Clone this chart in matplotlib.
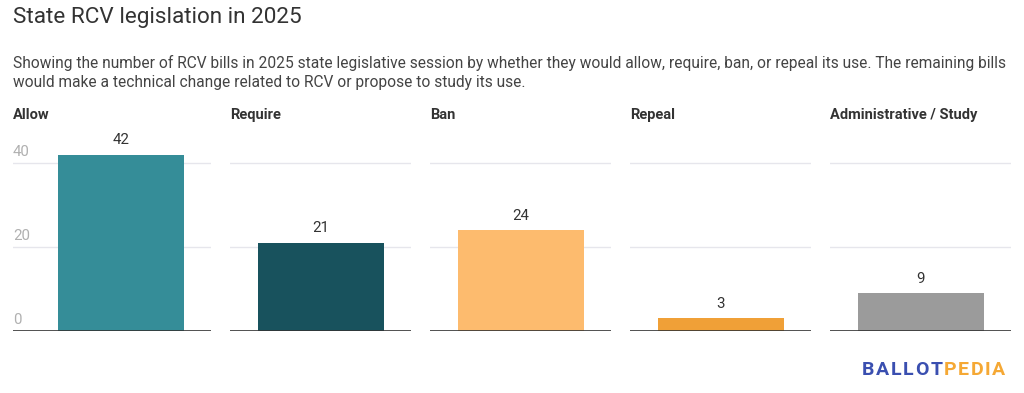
import matplotlib.pyplot as plt

plt.rcParams['font.family'] = ['Roboto', 'DejaVu Sans']

# data
categories = ['Allow', 'Require', 'Ban', 'Repeal', 'Administrative / Study']
counts = [42, 21, 24, 3, 9]
colors = ['#358d98', '#18525d', '#fdbb6e', '#f0a037', '#9b9b9b']
yticks = [0, 20, 40]

W, H = 1024, 393
fig = plt.figure(figsize=(W / 100, H / 100), dpi=100)

fig.text(13 / W, 1 - 18 / H, 'State RCV legislation in 2025', fontsize=16.2,
         color='#333333', va='center', ha='left')
fig.text(13 / W, 1 - 72.5 / H,
         'Showing the number of RCV bills in 2025 state legislative session by whether they would allow, require, ban, or repeal its use. The remaining bills\n'
         'would make a technical change related to RCV or propose to study its use.',
         fontsize=11.2, color='#444444', va='center', ha='left', linespacing=1.35)

base_y = 331
ytop = 48
px_per_unit = 84 / 20
ax_h = ytop * px_per_unit
panel_left = [13, 230, 430, 630, 830]
panel_right = [211, 411, 611, 811, 1011]
bar_px = 126

for i, (cat, val, col) in enumerate(zip(categories, counts, colors)):
    l, r = panel_left[i], panel_right[i]
    ax = fig.add_axes([l / W, 1 - base_y / H, (r - l) / W, ax_h / H])
    if i == 0:
        bar_l = 58
    else:
        bar_l = (l + r) / 2 - bar_px / 2
    left_lim = -0.5 - (bar_l - l) / bar_px
    right_lim = 0.5 + (r - bar_l - bar_px) / bar_px
    ax.set_xlim(left_lim, right_lim)
    ax.set_ylim(0, ytop)
    for t in yticks[1:]:
        ax.axhline(t, color='#e6e6ec', lw=1, zorder=0)
    ax.bar(0, val, width=1, color=col, zorder=2)
    ax.axhline(0, color='#333333', lw=1.2, zorder=3)
    ax.text(0, val + 1.8, str(val), ha='center', va='bottom', fontsize=10.8,
            color='#333333')
    for s in ax.spines.values():
        s.set_visible(False)
    ax.set_xticks([])
    ax.set_yticks([])
    if i == 0:
        for t in yticks:
            ax.text(left_lim, t + 0.9, str(t), ha='left', va='bottom',
                    fontsize=10.8, color='#b0b0b0')
    fig.text(l / W, 1 - 115 / H, cat, fontsize=10.5, fontweight='bold',
             color='#333333', va='center', ha='left')

# logo, letter-spaced
renderer = fig.canvas.get_renderer()
x = 862
for ch, col in [(c, '#3a4fb0') for c in 'BALLOT'] + [(c, '#f5a834') for c in 'PEDIA']:
    t = fig.text(x / W, 1 - 370 / H, ch, fontsize=14, fontweight='bold',
                 color=col, ha='left', va='center')
    x += t.get_window_extent(renderer).width + 1.6

fig.savefig('out.png', dpi=100, facecolor='white')
